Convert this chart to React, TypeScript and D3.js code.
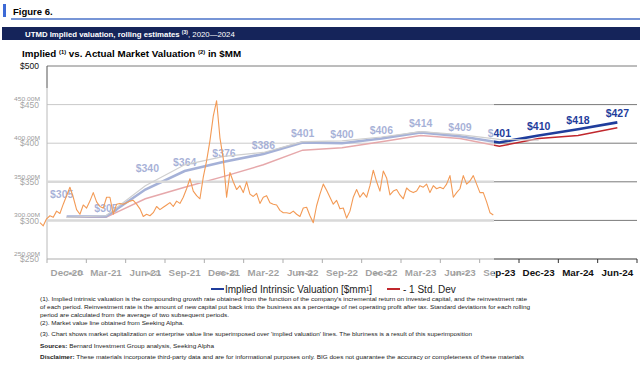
import React, { useRef, useEffect } from 'react';
import * as d3 from 'd3';

// quarterly rolling estimates, $MM
const quarters = ["Dec-20", "Mar-21", "Jun-21", "Sep-21", "Dec-21", "Mar-22", "Jun-22", "Sep-22", "Dec-22", "Mar-23", "Jun-23", "Sep-23", "Dec-23", "Mar-24", "Jun-24"];
const impliedValuation = [305, 305, 340, 364, 376, 386, 401, 400, 406, 414, 409, 401, 410, 418, 427];
const minusOneStdDev = [304, 304, 328, 343, 357, 372, 391, 394, 402, 410, 406, 396, 406, 410, 420];
// grey copy of the implied line that came with the superimposed market chart (Dec-20 .. Dec-23)
const overlayImplied = [304, 306, 345, 372, 383, 388, 402, 403, 408, 415, 411, 405, 404];

// market value (Seeking Alpha), roughly weekly, $MM
const marketValue = [
  297, 293, 302, 306, 304, 312, 309, 321, 332, 343,
  330, 314, 308, 320, 316, 325, 336, 324, 318, 316,
  330, 330, 308, 321, 322, 321, 323, 325, 326, 321,
  315, 305, 308, 306, 310, 318, 314, 317, 320, 323,
  318, 325, 322, 330, 341, 354, 338, 332, 328, 356,
  377, 403, 435, 455, 407, 380, 330, 362, 350, 340,
  345, 336, 350, 334, 331, 335, 322, 330, 332, 323,
  321, 320, 313, 310, 310, 309, 312, 308, 305, 316,
  317, 306, 297, 319, 334, 347, 339, 330, 321, 326,
  315, 316, 303, 312, 330, 340, 330, 336, 330, 345,
  365, 350, 338, 364, 355, 333, 338, 340, 333, 328,
  342, 338, 336, 338, 345, 343, 347, 336, 345, 341,
  343, 341, 347, 358, 330, 336, 341, 358, 347, 351,
  358, 347, 336, 336, 324, 310, 307,
];
const marketFirstDay = "2020-10-30";
const marketLastDay = "2023-09-16";

const valueTicks = [250, 300, 350, 400, 450, 500];
const overlayValueTicks = [250, 300, 350, 400, 450];
const overlayDateTicks = ["2021-01-19", "2021-07-19", "2022-01-07", "2022-07-06", "2023-01-01", "2023-07-01"];
const overlayDateLabels = ["Jan 21", "Jul 21", "Jan 22", "Jul 22", "Jan 23", "Jul 23"];

const footnotes = [
  "(1). Implied intrinsic valuation is the compounding growth rate obtained from the function of the company's incremental return on invested capital, and the reinvestment rate",
  "of each period. Reinvestment rate is the amount of new capital put back into the business as a percentage of net operating profit after tax. Standard deviations for each rolling",
  "period are calculated from the average of two subsequent periods.",
  "(2). Market value line obtained from Seeking Alpha.",
  "(3). Chart shows market capitalization or enterprise value line superimposed over 'implied valuation' lines. The bluriness is a result of this superimposition",
];

const FONT = "'Liberation Sans', Arial, sans-serif";
const BLUE = "#1f3d9c";
const RED = "#c0272d";

function ValuationChart() {
  const svgRef = useRef(null);

  useEffect(() => {
    const svg = d3.select(svgRef.current);
    svg.selectAll("*").remove();
    svg.attr("font-family", FONT);

    // header
    svg.append("rect").attr("x", 3).attr("y", 4).attr("width", 3).attr("height", 13).attr("fill", "#3d6ad6");
    svg.append("text").attr("x", 13).attr("y", 14.5).attr("font-size", 9.5).attr("font-weight", "bold").text("Figure 6.");
    svg.append("line").attr("x1", 11).attr("x2", 640).attr("y1", 19).attr("y2", 19)
      .attr("stroke", "#4a72c8").attr("stroke-width", 1.5);

    svg.append("rect").attr("x", 2).attr("y", 27).attr("width", 638).attr("height", 13).attr("fill", "#15245a");
    const banner = svg.append("text").attr("x", 25).attr("y", 36.5).attr("fill", "#fff").attr("font-size", 7.8);
    banner.append("tspan").attr("font-weight", "bold").text("UTMD Implied valuation, rolling estimates ");
    banner.append("tspan").attr("font-size", 5).attr("dy", -3).attr("font-weight", "bold").text("(3)");
    banner.append("tspan").attr("dy", 3).text(", 2020\u20142024");

    const sub = svg.append("text").attr("x", 22).attr("y", 57).attr("font-size", 9.8).attr("font-weight", "bold");
    sub.append("tspan").text("Implied ");
    sub.append("tspan").attr("font-size", 5.8).attr("dy", -3.5).text("(1)");
    sub.append("tspan").attr("dy", 3.5).text(" vs. Actual Market Valuation ");
    sub.append("tspan").attr("font-size", 5.8).attr("dy", -3.5).text("(2)");
    sub.append("tspan").attr("dy", 3.5).text(" in $MM");

    // scales
    const x = d3.scaleBand().domain(quarters).range([47, 637]);
    const cx = (q) => x(q) + x.bandwidth() / 2;
    const y = d3.scaleLinear().domain([250, 500]).range([259, 66]);

    // base chart: grid, axes
    svg.append("g").selectAll("line").data(valueTicks.slice(1)).join("line")
      .attr("x1", 47).attr("x2", 637).attr("y1", d => y(d)).attr("y2", d => y(d))
      .attr("stroke", "#7a7a7a").attr("stroke-width", 1);
    svg.append("line").attr("x1", 47).attr("x2", 47).attr("y1", y(500)).attr("y2", y(250)).attr("stroke", "#555");
    svg.append("line").attr("x1", 47).attr("x2", 637).attr("y1", y(250)).attr("y2", y(250)).attr("stroke", "#333");
    svg.append("g").selectAll("line").data([...quarters.map(q => x(q)), 637]).join("line")
      .attr("x1", d => d).attr("x2", d => d).attr("y1", y(250)).attr("y2", y(250) + 4).attr("stroke", "#333");

    svg.append("g").selectAll("text").data(valueTicks).join("text")
      .attr("x", 39).attr("y", d => y(d) + 3.2).attr("text-anchor", "end")
      .attr("font-size", 8.5).attr("fill", "#111").text(d => `$${d}`);
    svg.append("g").selectAll("text").data(quarters).join("text")
      .attr("x", d => cx(d)).attr("y", 276).attr("text-anchor", "middle")
      .attr("font-size", 9.8).attr("font-weight", "bold").attr("fill", "#111").text(d => d);

    // implied valuation and -1 std dev
    const line = d3.line().x((d, i) => cx(quarters[i])).y(d => y(d));
    svg.append("path").datum(minusOneStdDev).attr("d", line)
      .attr("fill", "none").attr("stroke", RED).attr("stroke-width", 1.5);
    svg.append("path").datum(impliedValuation).attr("d", line)
      .attr("fill", "none").attr("stroke", BLUE).attr("stroke-width", 2.6);

    const nudge = { 0: [-5, -14], 2: [2, -13] };
    svg.append("g").selectAll("text").data(impliedValuation).join("text")
      .attr("x", (d, i) => cx(quarters[i]) + (nudge[i] ? nudge[i][0] : 0))
      .attr("y", (d, i) => y(d) - 5 + (nudge[i] ? nudge[i][1] : 0))
      .attr("text-anchor", "middle").attr("font-size", 10.5).attr("font-weight", "bold")
      .attr("fill", BLUE).text(d => `$${d}`);

    // superimposed market chart: washes out what lies beneath it
    svg.append("rect").attr("x", 10).attr("y", 88).attr("width", 484).attr("height", 193)
      .attr("fill", "#fff").attr("opacity", 0.6);

    svg.append("g").selectAll("line").data([300, 350]).join("line")
      .attr("x1", 47).attr("x2", 494).attr("y1", d => y(d)).attr("y2", d => y(d))
      .attr("stroke", "#d9d9d9").attr("stroke-width", 2.5);

    const yOverlay = d3.scaleLinear().domain([250, 450]).range([254, 99]);
    svg.append("g").selectAll("text").data(overlayValueTicks).join("text")
      .attr("x", 40).attr("y", d => yOverlay(d) + 2).attr("text-anchor", "end")
      .attr("font-size", 6).attr("fill", "#9a9a9a").attr("textLength", 26).attr("lengthAdjust", "spacingAndGlyphs")
      .text(d => `${d}.00M`);

    const parse = d3.timeParse("%Y-%m-%d");
    const t = d3.scaleTime()
      .domain([new Date(2020, 11, 31), new Date(2023, 8, 30)])
      .range([cx("Dec-20"), cx("Sep-23")]);
    svg.append("g").selectAll("text").data(overlayDateTicks).join("text")
      .attr("x", d => t(parse(d))).attr("y", 275).attr("text-anchor", "middle")
      .attr("font-size", 6).attr("fill", "#999").text((d, i) => overlayDateLabels[i]);

    svg.append("path").datum(overlayImplied).attr("d", line)
      .attr("fill", "none").attr("stroke", "#cfcfcf").attr("stroke-width", 1.2);

    const first = parse(marketFirstDay).getTime();
    const last = parse(marketLastDay).getTime();
    const step = (last - first) / (marketValue.length - 1);
    const marketLine = d3.line()
      .x((d, i) => t(new Date(first + i * step)))
      .y(d => y(d));
    svg.append("path").datum(marketValue).attr("d", marketLine)
      .attr("fill", "none").attr("stroke", "#f39a55").attr("stroke-width", 1.1)
      .attr("stroke-linejoin", "round");

    // legend
    const lg = svg.append("g").attr("font-size", 10).attr("fill", "#222");
    lg.append("line").attr("x1", 211).attr("x2", 224).attr("y1", 289).attr("y2", 289).attr("stroke", BLUE).attr("stroke-width", 2);
    lg.append("text").attr("x", 225).attr("y", 292.5).text("Implied Intrinsic Valuation [$mm\u00b9]");
    lg.append("line").attr("x1", 387).attr("x2", 400).attr("y1", 289).attr("y2", 289).attr("stroke", RED).attr("stroke-width", 2);
    lg.append("text").attr("x", 403).attr("y", 292.5).text("- 1 Std. Dev");

    // footnotes
    const noteY = [301, 309, 317, 325, 336];
    const noteW = [487, 490, 189, 144, 432];
    svg.append("g").selectAll("text").data(footnotes).join("text")
      .attr("x", 40).attr("y", (d, i) => noteY[i]).attr("font-size", 6).attr("fill", "#222")
      .attr("textLength", (d, i) => noteW[i]).attr("lengthAdjust", "spacingAndGlyphs").text(d => d);

    const src = svg.append("text").attr("x", 40).attr("y", 348).attr("font-size", 6).attr("fill", "#222")
      .attr("textLength", 174).attr("lengthAdjust", "spacingAndGlyphs");
    src.append("tspan").attr("font-weight", "bold").text("Sources: ");
    src.append("tspan").text("Bernard Investment Group analysis, Seeking Alpha");

    const disc = svg.append("text").attr("x", 40).attr("y", 359).attr("font-size", 6).attr("fill", "#222")
      .attr("textLength", 484).attr("lengthAdjust", "spacingAndGlyphs");
    disc.append("tspan").attr("font-weight", "bold").text("Disclaimer: ");
    disc.append("tspan").text("These materials incorporate third-party data and are for informational purposes only. BIG does not guarantee the accuracy or completeness of these materials");
  }, []);

  return (
    <svg ref={svgRef} width={640} height={368}
      style={{ position: "absolute", left: 0, top: 0, background: "#fff" }} />
  );
}

export default function App() {
  return <ValuationChart />;
}
